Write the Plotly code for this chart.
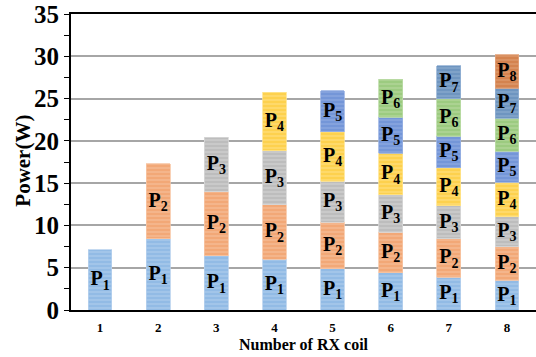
import plotly.graph_objects as go

coils = ["1", "2", "3", "4", "5", "6", "7", "8"]

# segment values per receiver (None where the receiver does not exist)
P1 = [7.1, 8.4, 6.4, 6.0, 4.9, 4.4, 3.9, 3.5]
P2 = [None, 8.9, 7.6, 6.45, 5.5, 4.8, 4.5, 4.0]
P3 = [None, None, 6.4, 6.4, 4.8, 4.4, 3.95, 3.5]
P4 = [None, None, None, 6.9, 5.85, 4.95, 4.5, 4.1]
P5 = [None, None, None, None, 4.9, 4.25, 3.7, 3.65]
P6 = [None, None, None, None, None, 4.5, 4.45, 3.95]
P7 = [None, None, None, None, None, None, 3.9, 3.55]
P8 = [None, None, None, None, None, None, None, 3.95]

series = [P1, P2, P3, P4, P5, P6, P7, P8]
names = ["P1", "P2", "P3", "P4", "P5", "P6", "P7", "P8"]
base_colors = ["#92BBE5", "#F2A877", "#BDBDBD", "#FDD14E", "#7496D8", "#9CCB80", "#6E95C0", "#D4834F"]
stripe_colors = ["#B6D1EE", "#F8C6A4", "#D8D8D8", "#FFE38C", "#98B1E3", "#BCDCA6", "#94B2D4", "#E2A47C"]

serif = "Liberation Serif, Times New Roman, serif"

fig = go.Figure()
for i, (vals, name) in enumerate(zip(series, names)):
    label = "<b>P<sub>%d</sub></b>" % (i + 1)
    xs = [c for c, v in zip(coils, vals) if v is not None]
    ys = [v for v in vals if v is not None]
    fig.add_trace(go.Bar(
        x=xs,
        y=ys,
        name=name,
        width=0.41,
        text=[label] * len(ys),
        textposition="inside",
        insidetextanchor="middle",
        textangle=0,
        constraintext="none",
        textfont=dict(family=serif, size=20, color="black"),
        marker=dict(
            color=base_colors[i],
            line=dict(width=0.8, color=stripe_colors[i]),
            pattern=dict(shape="-", fgcolor=stripe_colors[i], bgcolor=base_colors[i],
                         size=4, solidity=0.45, fillmode="overlay"),
        ),
        hoverinfo="skip",
    ))

fig.update_layout(
    barmode="stack",
    width=536,
    height=357,
    margin=dict(l=71, r=0, t=14, b=47, autoexpand=False),
    plot_bgcolor="white",
    paper_bgcolor="white",
    showlegend=False,
    font=dict(family=serif, color="black"),
    annotations=[
        dict(text="<b>Number of RX coil</b>", xref="paper", yref="paper",
             x=0.5, y=-0.118, xanchor="center", yanchor="middle", showarrow=False,
             font=dict(family=serif, size=16, color="black")),
        dict(text="<b>Power(W)</b>", xref="paper", yref="paper",
             x=-0.105, y=0.505, xanchor="center", yanchor="middle", showarrow=False,
             textangle=-90, font=dict(family=serif, size=21, color="black")),
    ],
)

fig.update_xaxes(
    automargin=False,
    categoryorder="array", categoryarray=coils,
    showline=True, linecolor="black", linewidth=2, mirror=True,
    ticks="", showgrid=False,
    tickfont=dict(family=serif, size=13, color="black", weight="bold"),
    ticklabelstandoff=4,
)

fig.update_yaxes(
    automargin=False,
    range=[0, 35], dtick=5, tick0=0,
    showline=True, linecolor="black", linewidth=2, mirror=False,
    ticks="outside", ticklen=5, tickwidth=1, tickcolor="black",
    minor=dict(dtick=2.5, ticks="outside", ticklen=5, tickcolor="black", showgrid=False),
    showgrid=True, gridcolor="#A6A6A6", gridwidth=1.5,
    zeroline=False,
    tickfont=dict(family=serif, size=25, color="black", weight="bold"),
)

fig.write_html("out.html", config={"displayModeBar": False},
               post_script="document.body.style.margin='0';document.body.style.overflow='hidden';")
